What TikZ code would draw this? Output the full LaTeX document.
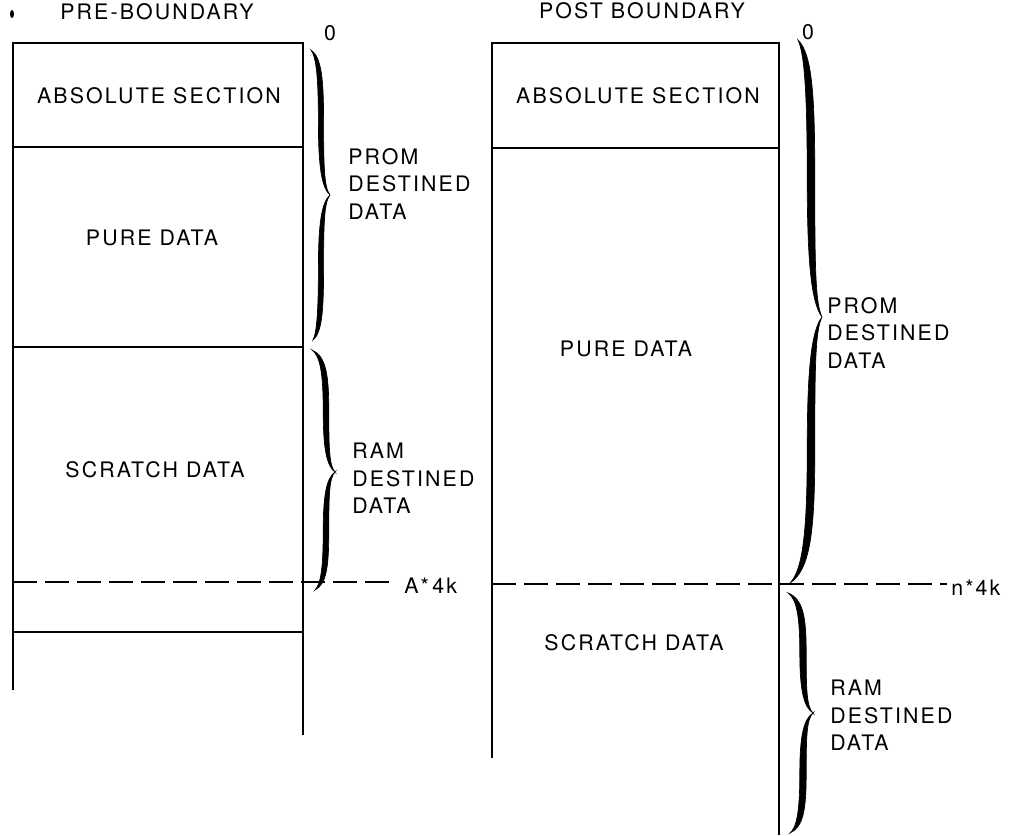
\documentclass[tikz,border=0pt]{standalone}
\usepackage{fontspec}
\setmainfont{TeX Gyre Heros}[LetterSpace=10]

% one half of a hand-drawn curly brace: end x, end y, arm x, tip x, tip y, half width
\newcommand{\bracehalf}[6]{%
  \filldraw[line width=0.5pt] ({#1},{#2}) .. controls ({#1+0.8*(#3-#1)+#6},{#2+0.05*(#5-#2)}) and ({#3+#6},{#2+0.2*(#5-#2)}) .. ({#3+#6},{#2+0.5*(#5-#2)})
    .. controls ({#3+#6},{#2+0.8*(#5-#2)}) and ({#3+0.2*(#4-#3)+0.5*#6},{#2+0.95*(#5-#2)}) .. ({#4},{#5})
    .. controls ({#3+0.2*(#4-#3)-0.5*#6},{#2+0.95*(#5-#2)}) and ({#3-#6},{#2+0.8*(#5-#2)}) .. ({#3-#6},{#2+0.5*(#5-#2)})
    .. controls ({#3-#6},{#2+0.2*(#5-#2)}) and ({#1+0.8*(#3-#1)-#6},{#2+0.05*(#5-#2)}) .. ({#1},{#2}) -- cycle;}

\begin{document}
\begin{tikzpicture}[x=0.75pt,y=0.75pt,yscale=-1,xscale=1,
    wall/.style={line width=1.3pt},
    cutline/.style={line width=2.2pt, dash pattern=on 18pt off 6pt},
    lbl/.style={inner sep=0.75pt, font=\fontsize{16}{20.6}\selectfont},
    side/.style={lbl, anchor=north west, align=left}]
\useasboundingbox (0,0) rectangle (1013,835);

% pre-boundary map
\coordinate (prenw) at (13,43);
\coordinate (prene) at (303,43);
\coordinate (presw) at (13,690);
\coordinate (prese) at (303,735);
\coordinate (preabsw) at (13,147);
\coordinate (preabse) at (303,147);
\coordinate (prepurw) at (13,347);
\coordinate (prepure) at (303,347);
\coordinate (prelow) at (13,632);
\coordinate (prelowe) at (303,632);
\coordinate (precutw) at (13,582);
\coordinate (precute) at (393,582);
\draw[wall] (presw) -- (prenw) -- (prene) -- (prese);
\draw[wall] (preabsw) -- (preabse);
\draw[wall] (prepurw) -- (prepure);
\draw[wall] (prelow) -- (prelowe);
\draw[cutline] (precutw) -- (precute);

% post-boundary map
\coordinate (postnw) at (492,43);
\coordinate (postne) at (779,43);
\coordinate (postsw) at (492,758);
\coordinate (postse) at (779,835);
\coordinate (postabsw) at (492,148);
\coordinate (postabse) at (779,148);
\coordinate (postcutw) at (492,584);
\coordinate (postcute) at (947,584);
\draw[wall] (postsw) -- (postnw) -- (postne) -- (postse);
\draw[wall] (postabsw) -- (postabse);
\draw[cutline] (postcutw) -- (postcute);

% braces
\bracehalf{311}{50}{321}{330}{195}{2.6}
\bracehalf{313}{340}{321}{330}{195}{2.6}
\bracehalf{312}{350}{326}{335}{472}{2.8}
\bracehalf{315}{590}{326}{335}{472}{2.8}
\bracehalf{798}{40}{811}{822}{317}{3.8}
\bracehalf{790}{583}{811}{822}{317}{3.8}
\bracehalf{788}{593}{803}{813}{713}{3.2}
\bracehalf{790}{833}{803}{813}{713}{3.2}

% labels
\fill (12,14) ellipse (2 and 4);
\node[lbl] (pretitle) at (157,12) {PRE-BOUNDARY};
\node[lbl] (posttitle) at (642,11) {POST BOUNDARY};
\node[lbl] (prezero) at (330,33) {0};
\node[lbl] (postzero) at (808,32) {0};
\node[lbl] (preabs) at (159,96) {ABSOLUTE SECTION};
\node[lbl] (postabs) at (638,96) {ABSOLUTE SECTION};
\node[lbl] (prepure) at (152,238) {PURE DATA};
\node[lbl] (postpure) at (626,349) {PURE DATA};
\node[lbl] (prescr) at (155,470) {SCRATCH DATA};
\node[lbl] (postscr) at (634,643) {SCRATCH DATA};
\node[side] (preprom) at (347,147) {PROM\\DESTINED\\DATA};
\node[side] (preram) at (351,442) {RAM\\DESTINED\\DATA};
\node[side] (postprom) at (826,296) {PROM\\DESTINED\\DATA};
\node[side] (postram) at (829,679) {RAM\\DESTINED\\DATA};
\node[lbl, anchor=west] (precut) at (403,586) {A*\,4k};
\node[lbl, anchor=west] (postcut) at (950,588) {n*4k};
\end{tikzpicture}
\end{document}
